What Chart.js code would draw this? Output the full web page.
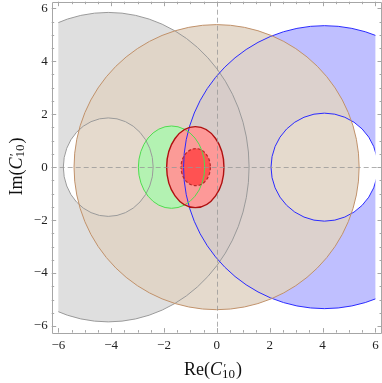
<!DOCTYPE html>
<html>
<head>
<meta charset="utf-8">
<script src="https://cdn.jsdelivr.net/npm/chart.js@4.4.1/dist/chart.umd.min.js"></script>
<style>
  html, body { margin: 0; padding: 0; background: #fff; }
</style>
</head>
<body>
<canvas id="regionsChart" width="382" height="383"></canvas>
<script>
// regions drawn as ellipses (centre + half axes), annuli have an inner hole
const regionNames = ["grayBand", "blueBand", "brownDisk", "greenDisk", "redOuter", "redInner"];
const centerRe = [-4.11, 4.07, -0.01, -1.715, -0.815, -0.80];
const centerIm = [0, 0, 0, 0, 0, 0];
const radiusRe = [5.33, 5.33, 5.395, 1.255, 1.085, 0.555];
const radiusIm = [5.845, 5.345, 5.385, 1.555, 1.53, 0.70];
const holeRadiusRe = [1.70, 2.02, 0, 0, 0, 0];
const holeRadiusIm = [1.86, 2.04, 0, 0, 0, 0];

const tickValues = [-6, -4, -2, 0, 2, 4, 6];
const tickLabels = ["\u22126", "\u22124", "\u22122", "0", "2", "4", "6"];
const axisRange = [-6.25, 6.25];
const plotDomain = [-6, 6];

const fillColors = [
  "rgba(128,128,128,0.25)",
  "rgba(0,0,255,0.25)",
  "rgba(225,211,196,0.85)",
  "rgba(176,244,176,0.92)",
  "rgba(255,150,150,0.95)",
  "rgba(255,78,78,0.95)"
];
const strokeColors = ["#9a9a9a", "#2a2aff", "#c0916a", "#4fdc4f", "#b01010", "#b52a2a"];
const strokeWidths = [1, 1, 1, 1, 1.4, 1.2];
const strokeDashes = [[], [], [], [], [], [3, 2]];

const serif = '"Liberation Serif", "DejaVu Serif", serif';

function ellipsePath(ctx, x, y, cx, cy, rx, ry) {
  const px = x.getPixelForValue(cx);
  const py = y.getPixelForValue(cy);
  const prx = Math.abs(x.getPixelForValue(cx + rx) - px);
  const pry = Math.abs(y.getPixelForValue(cy + ry) - py);
  ctx.moveTo(px + prx, py);
  ctx.ellipse(px, py, prx, pry, 0, 0, Math.PI * 2);
}

function drawTitle(ctx, head, cx, baseline, rotate) {
  const parts = [
    { t: head, font: "18px " + serif, dy: 0 },
    { t: "C", font: "italic 18px " + serif, dy: 0 }
  ];
  ctx.save();
  ctx.translate(cx, baseline);
  if (rotate) ctx.rotate(-Math.PI / 2);
  ctx.fillStyle = "#111";
  ctx.textBaseline = "alphabetic";
  ctx.textAlign = "left";
  let w = 0;
  parts.forEach(p => { ctx.font = p.font; p.w = ctx.measureText(p.t).width; w += p.w; });
  ctx.font = "13px " + serif;
  const subW = ctx.measureText("10").width;
  ctx.font = "18px " + serif;
  const closeW = ctx.measureText(")").width;
  w += subW + 1 + closeW;
  let xx = -w / 2;
  parts.forEach(p => { ctx.font = p.font; ctx.fillText(p.t, xx, p.dy); xx += p.w; });
  ctx.font = "12px " + serif;
  ctx.fillText("\u2032", xx + 1.5, -3.5);
  ctx.font = "13px " + serif;
  ctx.fillText("10", xx, 2.5);
  xx += subW + 1;
  ctx.font = "18px " + serif;
  ctx.fillText(")", xx, 0);
  ctx.restore();
}

const regionPlugin = {
  id: "regions",
  beforeDatasetsDraw(chart) {
    const { ctx, chartArea: area, scales: { x, y } } = chart;
    ctx.save();
    ctx.beginPath();
    const l = x.getPixelForValue(plotDomain[0]), r = x.getPixelForValue(plotDomain[1]);
    const t = y.getPixelForValue(plotDomain[1]), b = y.getPixelForValue(plotDomain[0]);
    ctx.rect(l, t, r - l, b - t);
    ctx.clip();

    regionNames.forEach((name, i) => {
      ctx.beginPath();
      ellipsePath(ctx, x, y, centerRe[i], centerIm[i], radiusRe[i], radiusIm[i]);
      if (holeRadiusRe[i] > 0) {
        ellipsePath(ctx, x, y, centerRe[i], centerIm[i], holeRadiusRe[i], holeRadiusIm[i]);
      }
      ctx.fillStyle = fillColors[i];
      ctx.fill("evenodd");
    });

    regionNames.forEach((name, i) => {
      ctx.strokeStyle = strokeColors[i];
      ctx.lineWidth = strokeWidths[i];
      ctx.setLineDash(strokeDashes[i]);
      ctx.beginPath();
      ellipsePath(ctx, x, y, centerRe[i], centerIm[i], radiusRe[i], radiusIm[i]);
      ctx.stroke();
      if (holeRadiusRe[i] > 0) {
        ctx.beginPath();
        ellipsePath(ctx, x, y, centerRe[i], centerIm[i], holeRadiusRe[i], holeRadiusIm[i]);
        ctx.stroke();
      }
    });
    ctx.restore();

    // dashed zero lines
    ctx.save();
    ctx.strokeStyle = "rgba(150,150,150,0.75)";
    ctx.lineWidth = 1;
    ctx.setLineDash([5, 3]);
    const x0 = Math.round(x.getPixelForValue(0)) + 0.5;
    const y0 = Math.round(y.getPixelForValue(0)) + 0.5;
    ctx.beginPath();
    ctx.moveTo(x0, area.top); ctx.lineTo(x0, area.bottom);
    ctx.moveTo(area.left, y0); ctx.lineTo(area.right, y0);
    ctx.stroke();
    ctx.restore();

    // frame with inward ticks
    ctx.save();
    ctx.strokeStyle = "#a6a6a6";
    ctx.lineWidth = 1;
    ctx.beginPath();
    ctx.rect(Math.round(area.left) + 0.5, Math.round(area.top) + 0.5,
      Math.round(area.right - area.left) - 1, Math.round(area.bottom - area.top));
    ctx.stroke();
    ctx.beginPath();
    for (let k = -12; k <= 12; k++) {
      const v = k / 2;
      const len = tickValues.includes(v) ? 4.5 : 2.5;
      const px = Math.round(x.getPixelForValue(v)) + 0.5;
      const py = Math.round(y.getPixelForValue(v)) + 0.5;
      ctx.moveTo(px, area.bottom); ctx.lineTo(px, area.bottom - len);
      ctx.moveTo(px, area.top); ctx.lineTo(px, area.top + len);
      ctx.moveTo(area.left, py); ctx.lineTo(area.left + len, py);
      ctx.moveTo(area.right, py); ctx.lineTo(area.right - len, py);
    }
    ctx.stroke();
    ctx.restore();

    drawTitle(ctx, "Re(", 213, 375, false);
    drawTitle(ctx, "Im(", 21.7, 166.5, true);
  }
};

function fixTicks(scale) {
  scale.ticks = tickValues.map(v => ({ value: v }));
}

function tickText(value) {
  const i = tickValues.indexOf(value);
  return i >= 0 ? tickLabels[i] : "";
}

new Chart(document.getElementById("regionsChart"), {
  type: "scatter",
  data: {
    datasets: [{
      label: "centres",
      data: centerRe.map((v, i) => ({ x: v, y: centerIm[i] })),
      pointRadius: 0
    }]
  },
  options: {
    responsive: false,
    devicePixelRatio: 1,
    animation: false,
    layout: { padding: { top: 1.7, right: 0, left: 0, bottom: 0 } },
    plugins: { legend: { display: false }, tooltip: { enabled: false } },
    scales: {
      x: {
        type: "linear",
        min: axisRange[0],
        max: axisRange[1],
        afterBuildTicks: fixTicks,
        afterFit(scale) {
          scale.height = 50.4;
          scale.paddingLeft = 0; scale.paddingRight = 0;
        },
        grid: { display: false, drawTicks: false },
        border: { display: false },
        ticks: {
          padding: 5,
          autoSkip: false,
          maxRotation: 0,
          color: "#222",
          font: { family: serif, size: 13 },
          callback: tickText
        }
      },
      y: {
        type: "linear",
        min: axisRange[0],
        max: axisRange[1],
        afterBuildTicks: fixTicks,
        afterFit(scale) {
          scale.width = 51.7;
          scale.paddingTop = 0; scale.paddingBottom = 0;
        },
        grid: { display: false, drawTicks: false },
        border: { display: false },
        ticks: {
          padding: 4,
          autoSkip: false,
          color: "#222",
          font: { family: serif, size: 13 },
          callback: tickText
        }
      }
    }
  },
  plugins: [regionPlugin]
});
</script>
</body>
</html>
